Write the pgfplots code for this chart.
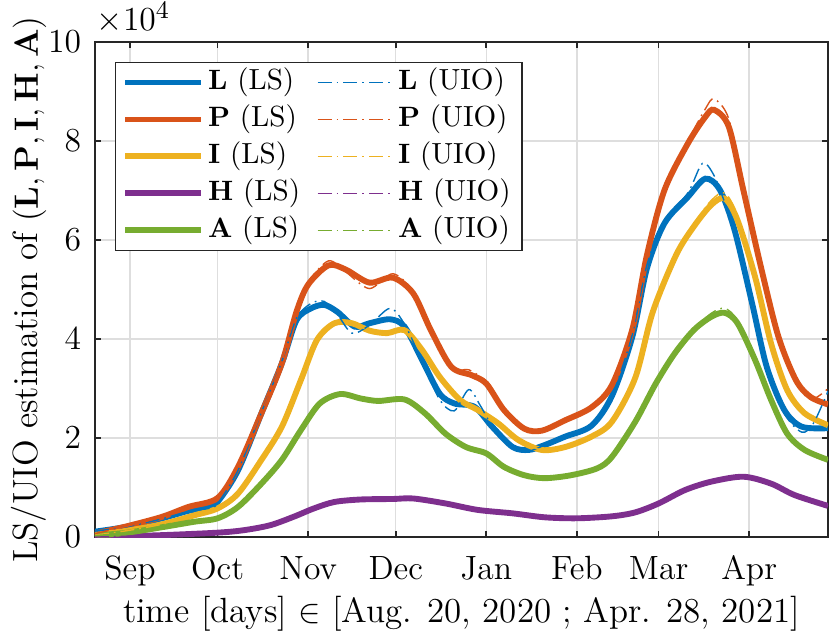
\documentclass[border=0pt]{standalone}
\usepackage{pgfplots}
\pgfplotsset{compat=1.18}
\definecolor{mblue}{RGB}{0,114,189}
\definecolor{morange}{RGB}{217,83,25}
\definecolor{myellow}{RGB}{237,177,32}
\definecolor{mpurple}{RGB}{126,47,142}
\definecolor{mgreen}{RGB}{119,172,48}
\definecolor{axgray}{RGB}{38,38,38}
\definecolor{gridgray}{RGB}{222,222,222}
\pgfplotsset{
  ls/.style={line width=2.1pt, smooth, forget plot},
  uio/.style={line width=0.5pt, smooth, forget plot, dash pattern=on 5pt off 1.8pt on 0.6pt off 1.8pt},
  lsimg/.style={line width=2.1pt},
  uioimg/.style={line width=0.5pt, dash pattern=on 5pt off 1.8pt on 0.6pt off 1.8pt},
}
\begin{document}
\begin{tikzpicture}
\begin{axis}[
  scale only axis,
  width=261.8pt, height=176.8pt,
  xmin=0, xmax=251, ymin=0, ymax=10,
  axis line style={axgray, line width=0.6pt},
  tick style={axgray, line width=0.6pt},
  tick align=inside, major tick length=2.2pt,
  xtick pos=both, ytick pos=both,
  xtick={12,42,73,103,134,165,193,224},
  xticklabels={Sep,Oct,Nov,Dec,Jan,Feb,Mar,Apr},
  ytick={0,2,4,6,8,10},
  scaled y ticks=false,
  grid=major,
  major grid style={gridgray, line width=0.5pt},
  xticklabel style={font=\fontsize{12}{14}\selectfont, anchor=base, yshift=-15pt},
  yticklabel style={font=\fontsize{11.5}{13}\selectfont, anchor=east, inner sep=0pt, xshift=-4.75pt},
  xlabel={time [days] $\in$ [Aug. 20, 2020 ; Apr. 28, 2021]},
  ylabel={LS/UIO estimation of $(\mathbf{L},\mathbf{P},\mathbf{I},\mathbf{H},\mathbf{A})$},
  xlabel style={font=\fontsize{12.5}{15}\selectfont, at={(axis description cs:0.5,-0.1731)}, anchor=base},
  ylabel style={font=\fontsize{12.5}{15}\selectfont, at={(axis description cs:-0.0779,0.5)}, anchor=base},
  legend columns=2,
  legend cell align=left,
  legend image code/.code={\draw[#1] (0pt,0pt) -- (27pt,0pt);},
  legend style={at={(rel axis cs:0,1)}, anchor=north west, xshift=7.1pt, yshift=-7.1pt,
    font=\fontsize{10.4}{12}\selectfont, draw=axgray, line width=0.5pt, fill=white,
    inner xsep=2.5pt, inner ysep=0.5pt,
    nodes={inner sep=1.5pt, text height=7.6pt, text depth=2.6pt},
    /tikz/every even column/.append style={column sep=4.5pt}},
]
% legend (row-wise order)
\addlegendimage{lsimg, mblue}\addlegendentry{$\mathbf{L}$ (LS)}
\addlegendimage{uioimg, mblue}\addlegendentry{$\mathbf{L}$ (UIO)}
\addlegendimage{lsimg, morange}\addlegendentry{$\mathbf{P}$ (LS)}
\addlegendimage{uioimg, morange}\addlegendentry{$\mathbf{P}$ (UIO)}
\addlegendimage{lsimg, myellow}\addlegendentry{$\mathbf{I}$ (LS)}
\addlegendimage{uioimg, myellow}\addlegendentry{$\mathbf{I}$ (UIO)}
\addlegendimage{lsimg, mpurple}\addlegendentry{$\mathbf{H}$ (LS)}
\addlegendimage{uioimg, mpurple}\addlegendentry{$\mathbf{H}$ (UIO)}
\addlegendimage{lsimg, mgreen}\addlegendentry{$\mathbf{A}$ (LS)}
\addlegendimage{uioimg, mgreen}\addlegendentry{$\mathbf{A}$ (UIO)}

% LS estimates (x 10^4)
\addplot[ls, mblue] coordinates {(0,0.11)(11,0.21)(23,0.38)(32,0.53)(39,0.61)(42,0.71)(49,1.35)(57,2.50)(64,3.51)(69,4.38)(74,4.62)(78.5,4.69)(83,4.55)(89,4.25)(94,4.32)(101,4.40)(106,4.25)(112,3.58)(118,2.90)(123,2.70)(130,2.63)(136,2.23)(143,1.82)(148.5,1.76)(154,1.86)(161,2.03)(170,2.25)(177,2.85)(184,4.05)(189,5.43)(195,6.34)(203,6.87)(209,7.24)(214,7.01)(219,6.20)(225,4.72)(230,3.44)(236,2.57)(242,2.23)(251,2.20)};
\addplot[ls, morange] coordinates {(0,0.07)(11,0.22)(23,0.41)(32,0.61)(42,0.79)(49,1.42)(57,2.50)(64,3.51)(69,4.55)(73,5.10)(80,5.49)(86,5.40)(94,5.14)(102,5.24)(109,4.92)(115,4.18)(122,3.44)(129,3.27)(134,3.10)(140,2.57)(147,2.19)(153,2.15)(161,2.36)(170,2.62)(177,3.07)(184,4.20)(189,5.70)(195,7.01)(203,7.95)(209,8.49)(212,8.63)(217,8.29)(222,7.01)(228,5.46)(234,4.05)(240,3.17)(245,2.83)(251,2.68)};
\addplot[ls, myellow] coordinates {(0,0.04)(11,0.13)(23,0.26)(34,0.44)(42,0.58)(49,0.88)(57,1.56)(64,2.23)(70.5,3.17)(76,3.98)(82,4.32)(88,4.32)(94,4.17)(100,4.12)(106,4.18)(112,3.78)(118,3.24)(125,2.77)(131,2.57)(138,2.30)(145,1.96)(153,1.76)(161,1.82)(170,2.03)(177,2.33)(185,3.22)(191,4.55)(199,5.70)(205,6.27)(211,6.71)(215.6,6.84)(220,6.40)(226,5.26)(231.5,3.91)(237,2.97)(243,2.50)(251,2.26)};
\addplot[ls, mpurple] coordinates {(0,0.0)(23,0.04)(42,0.09)(51,0.14)(60,0.24)(68,0.41)(75,0.58)(82,0.71)(91,0.76)(102,0.77)(109,0.78)(120,0.68)(131,0.55)(143,0.48)(154,0.40)(165,0.38)(177,0.42)(185,0.50)(193,0.68)(202,0.95)(211,1.12)(222,1.22)(231.5,1.08)(239.5,0.85)(251,0.63)};
\addplot[ls, mgreen] coordinates {(0,0.03)(11,0.09)(23,0.20)(34,0.31)(42,0.38)(49,0.61)(57,1.08)(64,1.56)(70.5,2.16)(77,2.70)(84,2.89)(91,2.80)(97,2.75)(106,2.78)(113,2.50)(120,2.09)(127,1.82)(134,1.69)(140,1.42)(147,1.25)(154,1.19)(163,1.25)(172,1.39)(177,1.62)(185,2.33)(192,3.10)(198.5,3.71)(205,4.18)(211,4.45)(215.6,4.53)(220,4.32)(226,3.58)(231.5,2.77)(237,2.09)(243,1.76)(251,1.56)};

% UIO estimates (x 10^4)
\addplot[uio, mblue] coordinates {(0,0.12)(11,0.21)(23,0.37)(32,0.52)(39,0.58)(42,0.68)(49,1.35)(57,2.52)(64,3.55)(69,4.42)(74,4.72)(78.5,4.76)(83,4.50)(88,4.12)(94,4.28)(101,4.62)(106,4.30)(112,3.55)(118,2.78)(123,2.55)(128,2.98)(132,2.65)(136,2.25)(143,1.80)(148.5,1.74)(154,1.86)(161,2.05)(170,2.25)(177,2.85)(184,4.10)(189,5.50)(195,6.40)(203,6.95)(208,7.55)(212,7.30)(216,6.70)(219,6.25)(225,4.72)(230,3.44)(236,2.50)(242,2.12)(246,2.30)(251,2.95)};
\addplot[uio, morange] coordinates {(0,0.07)(11,0.22)(23,0.41)(32,0.62)(42,0.79)(49,1.44)(57,2.52)(64,3.55)(69,4.60)(73,5.15)(80,5.58)(86,5.35)(94,5.02)(102,5.32)(109,4.95)(115,4.15)(122,3.40)(128,3.38)(134,3.12)(140,2.55)(147,2.18)(153,2.15)(161,2.36)(170,2.62)(177,3.07)(184,4.20)(189,5.70)(195,7.05)(203,8.00)(209,8.65)(212,8.85)(217,8.45)(222,7.05)(228,5.50)(234,4.10)(240,3.15)(245,2.78)(251,3.00)};
\addplot[uio, myellow] coordinates {(0,0.04)(11,0.13)(23,0.26)(34,0.44)(42,0.58)(49,0.88)(57,1.56)(64,2.23)(70.5,3.17)(76,3.98)(82,4.34)(88,4.32)(94,4.17)(100,4.12)(106,4.20)(112,3.78)(118,3.24)(125,2.77)(131,2.57)(138,2.30)(145,1.96)(153,1.76)(161,1.82)(170,2.03)(177,2.33)(185,3.22)(191,4.55)(199,5.72)(205,6.32)(211,6.80)(215.6,6.95)(220,6.50)(226,5.30)(231.5,3.91)(237,2.97)(243,2.50)(251,2.28)};
\addplot[uio, mpurple] coordinates {(0,0.0)(23,0.04)(42,0.09)(51,0.14)(60,0.24)(68,0.41)(75,0.58)(82,0.71)(91,0.76)(102,0.77)(109,0.78)(120,0.68)(131,0.55)(143,0.48)(154,0.40)(165,0.38)(177,0.42)(185,0.50)(193,0.68)(202,0.95)(211,1.12)(222,1.22)(231.5,1.08)(239.5,0.85)(251,0.63)};
\addplot[uio, mgreen] coordinates {(0,0.03)(11,0.09)(23,0.20)(34,0.31)(42,0.38)(49,0.61)(57,1.08)(64,1.56)(70.5,2.16)(77,2.72)(84,2.91)(91,2.80)(97,2.75)(106,2.78)(113,2.50)(120,2.09)(127,1.82)(134,1.69)(140,1.42)(147,1.25)(154,1.19)(163,1.25)(172,1.39)(177,1.62)(185,2.33)(192,3.10)(198.5,3.71)(205,4.20)(211,4.52)(215.6,4.62)(220,4.38)(226,3.60)(231.5,2.77)(237,2.09)(243,1.76)(251,1.56)};
\end{axis}
\node[anchor=base west, inner sep=0pt, font=\fontsize{13}{15}\selectfont] at ([xshift=0.5pt,yshift=4pt]current axis.north west) {$\times 10^4$};
\path[use as bounding box] ([xshift=-33.9pt,yshift=-34.3pt]current axis.south west) rectangle ([xshift=0.7pt,yshift=15pt]current axis.north east);
\end{tikzpicture}
\end{document}
